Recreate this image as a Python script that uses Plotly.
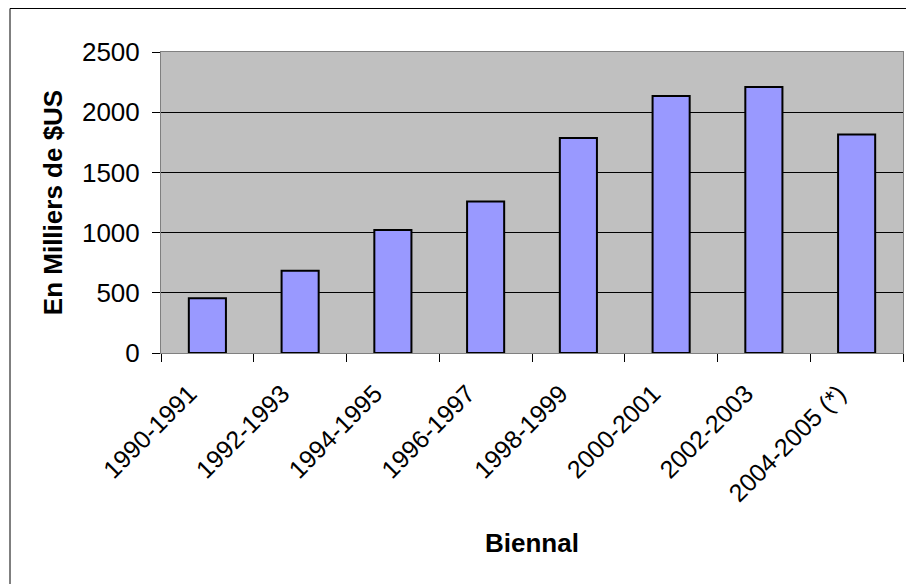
import plotly.graph_objects as go

categories = ["1990-1991", "1992-1993", "1994-1995", "1996-1997",
              "1998-1999", "2000-2001", "2002-2003", "2004-2005 (*)"]
values = [455, 684, 1022, 1259, 1786, 2134, 2209, 1814]
y_ticks = [0, 500, 1000, 1500, 2000, 2500]

FONT = "Arial, Liberation Sans, sans-serif"

fig = go.Figure(go.Bar(
    x=categories, y=values,
    marker=dict(color="#9999FF", line=dict(color="black", width=2)),
))

# page body has an 8px margin; figure sized to fill the rest of the window
W, H = 906, 576
L, R, T, B = 153, 11, 44, 231
pw, ph = W - L - R, H - T - B

def px_x(p):
    return (p - L) / pw

def px_y(p):
    return (H - B - p) / ph

fig.update_layout(
    width=W, height=H,
    margin=dict(l=L, r=R, t=T, b=B, pad=0),
    paper_bgcolor="white",
    plot_bgcolor="#C0C0C0",
    bargap=0.6,
    showlegend=False,
    font=dict(family=FONT, color="black"),
    shapes=[dict(type="rect", xref="paper", yref="paper",
                 x0=px_x(2), x1=px_x(930), y0=px_y(600), y1=px_y(0.5),
                 line=dict(color="black", width=1), fillcolor="rgba(0,0,0,0)",
                 layer="below")],
)

fig.update_xaxes(
    type="category",
    tickangle=-45,
    tickfont=dict(size=25, family=FONT, color="black"),
    ticks="outside", ticklen=8, tickcolor="black", tickson="boundaries",
    ticklabelstandoff=15, ticklabelshift=-18,
    showline=True, linecolor="#808080", linewidth=1, mirror=True,
    showgrid=False,
    title=dict(text="<b>Biennal</b>", font=dict(size=26, family=FONT, color="black"), standoff=27),
)
fig.update_yaxes(
    range=[0, 2500],
    tickvals=y_ticks,
    tickfont=dict(size=26, family=FONT, color="black"),
    ticks="outside", ticklen=8, tickcolor="black",
    ticklabelstandoff=7,
    showline=True, linecolor="#808080", linewidth=1, mirror=True,
    showgrid=True, gridcolor="black", gridwidth=1,
    zeroline=False,
    title=dict(text="<b>En Milliers de $US</b>", font=dict(size=26, family=FONT, color="black"), standoff=11),
)

fig.write_html("out.html")
